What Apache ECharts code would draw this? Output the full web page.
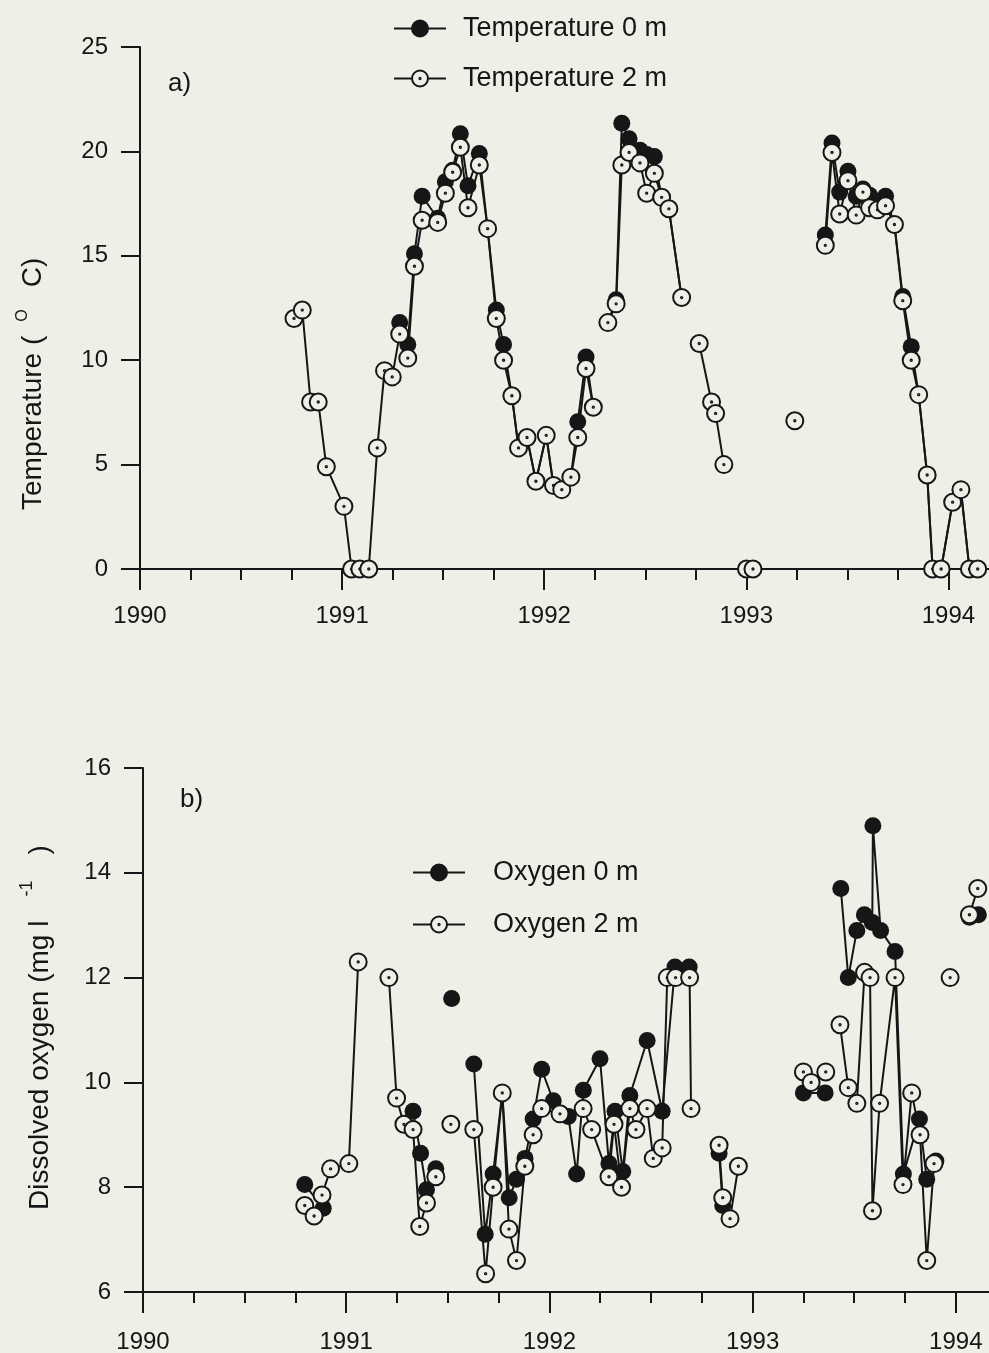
<!DOCTYPE html>
<html>
<head>
<meta charset="utf-8">
<script src="https://cdn.jsdelivr.net/npm/echarts@6/dist/echarts.min.js"></script>
<style>
  html, body { margin: 0; padding: 0; background: #efeee7; }
  #chart { width: 989px; height: 1353px; }
</style>
</head>
<body>
<div id="chart"></div>
<script>
// Sampling dates are decimal years; a null reading marks a gap in the record.

// a) water temperature (°C)
const tempDates2m = [
  1990.762, 1990.803, 1990.844, 1990.882, 1990.922, 1991.009, 1991.047, 1991.088, 1991.132, 1991.174,
  1991.210, 1991.248, 1991.285, 1991.325, 1991.358, 1991.396, 1991.473, 1991.511, 1991.547, 1991.585,
  1991.623, 1991.679, 1991.720, 1991.763, 1991.799, 1991.840, 1991.873, 1991.915, 1991.959, 1992.010,
  1992.046, 1992.087, 1992.132, 1992.166, 1992.207, 1992.243, 1992.280,
  1992.315, 1992.356, 1992.384, 1992.420, 1992.474, 1992.507, 1992.545, 1992.581, 1992.617, 1992.680, 1992.720,
  1992.767, 1992.828, 1992.848, 1992.889, 1992.950,
  1993.001, 1993.033, 1993.100,
  1993.240, 1993.300,
  1993.391, 1993.424, 1993.462, 1993.503, 1993.544, 1993.577, 1993.610, 1993.649, 1993.689, 1993.733,
  1993.774, 1993.816, 1993.853, 1993.895, 1993.922, 1993.964, 1994.021, 1994.062, 1994.104, 1994.145
];
const temp2m = [
  12.0, 12.4, 8.0, 8.0, 4.9, 3.0, 0, 0, 0, 5.8,
  9.5, 9.2, 11.25, 10.1, 14.5, 16.7, 16.6, 18.0, 19.0, 20.2,
  17.3, 19.35, 16.3, 12.0, 10.0, 8.3, 5.8, 6.3, 4.2, 6.4,
  4.0, 3.8, 4.4, 6.3, 9.6, 7.75, null,
  11.8, 12.7, 19.35, 19.95, 19.45, 18.0, 18.95, 17.8, 17.25, 13.0, null,
  10.8, 8.0, 7.45, 5.0, null,
  0, 0, null,
  7.1, null,
  15.5, 19.95, 17.0, 18.6, 16.95, 18.05, 17.3, 17.2, 17.4, 16.5,
  12.85, 10.0, 8.35, 4.5, 0, 0, 3.2, 3.8, 0, 0
];
const tempDates0m = [
  1991.285, 1991.325, 1991.358, 1991.396, 1991.473, 1991.511, 1991.547, 1991.585, 1991.623, 1991.679,
  1991.720, 1991.763, 1991.799, 1991.840, 1991.873, 1991.915, 1991.959, 1992.010, 1992.046, 1992.087,
  1992.132, 1992.166, 1992.207, 1992.243, 1992.280,
  1992.315, 1992.356, 1992.384, 1992.420, 1992.474, 1992.507, 1992.545, 1992.581, 1992.617, 1992.680, 1993.000,
  1993.391, 1993.424, 1993.462, 1993.503, 1993.544, 1993.577, 1993.610, 1993.649, 1993.689, 1993.733,
  1993.774, 1993.816, 1993.853, 1993.895, 1993.922, 1993.964, 1994.021, 1994.062, 1994.104, 1994.145
];
const temp0m = [
  11.8, 10.75, 15.1, 17.85, 16.8, 18.55, 19.1, 20.85, 18.35, 19.9,
  16.3, 12.4, 10.75, 8.3, 5.8, 6.3, 4.2, 6.4, 4.0, 3.8,
  4.4, 7.05, 10.15, 7.75, null,
  11.8, 12.9, 21.35, 20.6, 20.05, 19.85, 19.75, 17.8, 17.25, 13.0, null,
  16.0, 20.4, 18.05, 19.05, 17.85, 18.2, 17.9, 17.6, 17.85, 16.5,
  13.05, 10.65, 8.35, 4.5, 0, 0, 3.2, 3.8, 0, 0
];

// b) dissolved oxygen (mg l-1)
const oxyDates2m = [
  1990.796, 1990.842, 1990.881, 1990.923, 1991.013, 1991.059, 1991.130,
  1991.210, 1991.248, 1991.284, 1991.329, 1991.362, 1991.395, 1991.441, 1991.480,
  1991.515, 1991.570,
  1991.628, 1991.686, 1991.723, 1991.768, 1991.801, 1991.838, 1991.879, 1991.920, 1991.962, 1992.052,
  1992.166, 1992.208, 1992.293, 1992.318, 1992.355, 1992.396, 1992.426, 1992.481, 1992.511, 1992.555,
  1992.580, 1992.621, 1992.690, 1992.697, 1992.770,
  1992.835, 1992.853, 1992.889, 1992.930, 1993.100,
  1993.250, 1993.288, 1993.360, 1993.400,
  1993.430, 1993.471, 1993.513, 1993.551, 1993.578, 1993.590, 1993.625, 1993.701, 1993.740, 1993.783,
  1993.824, 1993.857, 1993.893, 1993.930,
  1993.972, 1994.020,
  1994.067, 1994.108
];
const oxy2m = [
  7.65, 7.45, 7.85, 8.35, 8.45, 12.3, null,
  12.0, 9.7, 9.2, 9.1, 7.25, 7.7, 8.2, null,
  9.2, null,
  9.1, 6.35, 8.0, 9.8, 7.2, 6.6, 8.4, 9.0, 9.5, 9.4,
  9.5, 9.1, 8.2, 9.2, 8.0, 9.5, 9.1, 9.5, 8.55, 8.75,
  12.0, 12.0, 12.0, 9.5, null,
  8.8, 7.8, 7.4, 8.4, null,
  10.2, 10.0, 10.2, null,
  11.1, 9.9, 9.6, 12.1, 12.0, 7.55, 9.6, 12.0, 8.05, 9.8,
  9.0, 6.6, 8.45, null,
  12.0, null,
  13.2, 13.7
];
const oxyDates0m = [
  1990.796, 1990.887, 1991.200,
  1991.329, 1991.366, 1991.395, 1991.441, 1991.480,
  1991.519, 1991.570,
  1991.628, 1991.684, 1991.723, 1991.768, 1991.802, 1991.838, 1991.880, 1991.920, 1991.962, 1992.019,
  1992.093, 1992.134, 1992.167, 1992.249, 1992.293, 1992.323, 1992.361, 1992.396, 1992.481, 1992.555,
  1992.618, 1992.688, 1992.770,
  1992.835, 1992.853, 1993.100,
  1993.250, 1993.357, 1993.400,
  1993.434, 1993.471, 1993.513, 1993.550, 1993.589, 1993.592, 1993.630, 1993.701, 1993.742, 1993.821,
  1993.857, 1993.902, 1994.000,
  1994.067, 1994.111
];
const oxy0m = [
  8.05, 7.6, null,
  9.45, 8.65, 7.95, 8.35, null,
  11.6, null,
  10.35, 7.1, 8.25, 9.8, 7.8, 8.15, 8.55, 9.3, 10.25, 9.65,
  9.35, 8.25, 9.85, 10.45, 8.45, 9.45, 8.3, 9.75, 10.8, 9.45,
  12.2, 12.2, null,
  8.65, 7.65, null,
  9.8, 9.8, null,
  13.7, 12.0, 12.9, 13.2, 13.05, 14.9, 12.9, 12.5, 8.25, 9.3,
  8.15, 8.5, null,
  13.15, 13.2
];

const yearTicks = [1990, 1991, 1992, 1993, 1994];

const INK = '#161616';
const PAPER = '#efeee7';
const FONT = '"Liberation Sans", Arial, Helvetica, sans-serif';
// open circle with a centre dot
const RING = 'path://M50 0A50 50 0 1 1 50 100A50 50 0 1 1 50 0ZM50 46A4 4 0 1 1 50 54A4 4 0 1 1 50 46Z';

function pairs(dates, vals) {
  return dates.map((d, i) => [d, vals[i]]);
}

function series(name, idx, dates, vals, filled) {
  return {
    name: name,
    type: 'line',
    xAxisIndex: idx,
    yAxisIndex: idx,
    data: pairs(dates, vals),
    connectNulls: false,
    showAllSymbol: true,
    symbol: filled ? 'circle' : RING,
    symbolSize: 17,
    lineStyle: { color: INK, width: 2 },
    itemStyle: filled
      ? { color: INK, borderColor: INK, borderWidth: 0 }
      : { color: PAPER, borderColor: INK, borderWidth: 2 },
    emphasis: { disabled: true },
    z: filled ? 2 : 3,
    silent: true
  };
}

function xAxis(idx, labelMargin) {
  return {
    type: 'value',
    gridIndex: idx,
    min: 1990,
    max: 1995,
    interval: 1,
    axisLine: { show: true, onZero: false, lineStyle: { color: INK, width: 2 } },
    axisTick: { show: true, inside: false, length: 21, lineStyle: { color: INK, width: 2 } },
    minorTick: { show: true, splitNumber: 4, length: 11, lineStyle: { color: INK, width: 2 } },
    splitLine: { show: false },
    minorSplitLine: { show: false },
    axisLabel: {
      show: true, margin: labelMargin, fontSize: 24, color: INK, fontFamily: FONT,
      formatter: v => (yearTicks.indexOf(v) >= 0 ? String(v) : '')
    }
  };
}

function yAxis(idx, min, max, interval) {
  return {
    type: 'value',
    gridIndex: idx,
    min: min,
    max: max,
    interval: interval,
    axisLine: { show: true, onZero: false, lineStyle: { color: INK, width: 2 } },
    axisTick: { show: true, inside: false, length: 19, lineStyle: { color: INK, width: 2 } },
    splitLine: { show: false },
    axisLabel: { show: true, margin: 32, fontSize: 24, color: INK, fontFamily: FONT }
  };
}

function legend(name, left, top, gap) {
  return {
    data: [name],
    left: left,
    top: top,
    padding: 0,
    orient: 'vertical',
    selectedMode: false,
    itemWidth: 52,
    itemHeight: 20,
    itemStyle: { borderWidth: 2 },
    lineStyle: { width: 2, color: INK },
    textStyle: { fontSize: 27, color: INK, fontFamily: FONT, lineHeight: 20, padding: [0, 0, 0, gap] }
  };
}

// rotated axis title, read bottom to top from (x0, y0), built from pieces so
// the superscripts can be raised and spaced
const measureCtx = document.createElement('canvas').getContext('2d');
function textWidth(text, size) {
  measureCtx.font = size + 'px ' + FONT;
  return measureCtx.measureText(text).width;
}
function verticalTitle(x0, y0, parts) {
  let x = 0;
  const children = parts.map(p => {
    x += p.gap || 0;
    const el = {
      type: 'text',
      x: x,
      y: -(p.rise || 0),
      style: {
        text: p.text, fontSize: p.size, fontFamily: FONT, fill: INK,
        align: 'left', verticalAlign: 'middle'
      }
    };
    x += textWidth(p.text, p.size);
    return el;
  });
  return { type: 'group', x: x0, y: y0, rotation: Math.PI / 2, children: children, silent: true };
}

const chart = echarts.init(document.getElementById('chart'), null, { renderer: 'canvas' });
chart.setOption({
  backgroundColor: PAPER,
  animation: false,
  textStyle: { fontFamily: FONT, color: INK },
  grid: [
    { left: 140, top: 47, right: -161.5, bottom: 784, outerBoundsMode: 'none', containLabel: false },
    { left: 143, top: 768, right: -170, bottom: 61, outerBoundsMode: 'none', containLabel: false }
  ],
  xAxis: [xAxis(0, 35), xAxis(1, 38)],
  yAxis: [yAxis(0, 0, 25, 5), yAxis(1, 6, 16, 2)],
  legend: [
    legend('Temperature 0 m', 393, 15, 12),
    legend('Temperature 2 m', 393, 65, 12),
    legend('Oxygen 0 m', 412, 859, 23),
    legend('Oxygen 2 m', 412, 911, 23)
  ],
  series: [
    series('Temperature 0 m', 0, tempDates0m, temp0m, true),
    series('Temperature 2 m', 0, tempDates2m, temp2m, false),
    series('Oxygen 0 m', 1, oxyDates0m, oxy0m, true),
    series('Oxygen 2 m', 1, oxyDates2m, oxy2m, false)
  ],
  graphic: [
    { type: 'text', x: 168, y: 84, silent: true,
      style: { text: 'a)', fontSize: 26, fontFamily: FONT, fill: INK, align: 'left', verticalAlign: 'middle' } },
    { type: 'text', x: 180, y: 800, silent: true,
      style: { text: 'b)', fontSize: 26, fontFamily: FONT, fill: INK, align: 'left', verticalAlign: 'middle' } },
    verticalTitle(33, 510, [
      { text: 'Temperature (', size: 28 },
      { text: 'O', size: 16, rise: 10, gap: 14 },
      { text: 'C)', size: 28, gap: 22 }
    ]),
    verticalTitle(40, 1210, [
      { text: 'Dissolved oxygen (mg l', size: 28 },
      { text: '-1', size: 18, rise: 13, gap: 24 },
      { text: ')', size: 28, gap: 26 }
    ])
  ]
});
</script>
</body>
</html>
